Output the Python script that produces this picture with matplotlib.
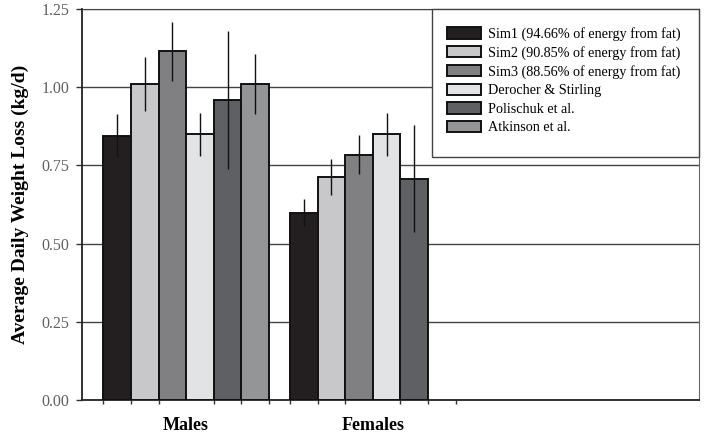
import numpy as np
import matplotlib.pyplot as plt
from matplotlib.patches import Rectangle

# Data
groups = ["Males", "Females"]
series = ["Sim1 (94.66% of energy from fat)",
          "Sim2 (90.85% of energy from fat)",
          "Sim3 (88.56% of energy from fat)",
          "Derocher & Stirling",
          "Polischuk et al.",
          "Atkinson et al."]
males = [0.845, 1.010, 1.115, 0.849, 0.960, 1.010]
males_err = [0.068, 0.087, 0.095, 0.070, 0.220, 0.097]
females = [0.598, 0.712, 0.784, 0.849, 0.708, np.nan]
females_err = [0.043, 0.058, 0.063, 0.070, 0.170, np.nan]

colors = ["#231f20", "#c8c8ca", "#808083", "#e2e3e5", "#5f6063", "#949597"]

plt.rcParams['font.family'] = ['Liberation Serif', 'DejaVu Serif']

fig = plt.figure(figsize=(7.05, 4.37), dpi=100)
ax = fig.add_axes([82 / 705, 37 / 437, 617 / 705, 391 / 437])

group_offset = [0.0, 6.76]
vals = [males, females]
errs = [males_err, females_err]

handles = []
for i in range(len(series)):
    xs, ys, es = [], [], []
    for g in range(len(groups)):
        if not np.isnan(vals[g][i]):
            xs.append(group_offset[g] + i)
            ys.append(vals[g][i])
            es.append(errs[g][i])
    b = ax.bar(xs, ys, width=1.0, color=colors[i], edgecolor="#111111",
               linewidth=1.4, zorder=3, label=series[i])
    ax.errorbar(xs, ys, yerr=es, fmt="none", ecolor="#111111",
                elinewidth=1.0, capsize=0, zorder=4)
    handles.append(b)

ax.set_xlim(-1.272, 21.08)
ax.set_ylim(0, 1.25)
ax.set_yticks([0, 0.25, 0.5, 0.75, 1.0, 1.25])
ax.set_yticklabels(["0.00", "0.25", "0.50", "0.75", "1.00", "1.25"])
ax.yaxis.grid(True, color="#444444", linewidth=1.0, zorder=0)
ax.set_axisbelow(True)
ax.tick_params(axis="y", direction="out", length=4, width=1, color="#333333",
               labelsize=11.5, labelcolor="#606060", pad=5)

# group labels
ax.set_xticks([o + 2.5 for o in group_offset])
ax.set_xticklabels(groups, fontsize=13, fontweight="bold")
ax.tick_params(axis="x", which="major", length=0, pad=12)
edges = []
for o in group_offset:
    edges += [o - 0.5 + k for k in range(7)]
ax.set_xticks(edges, minor=True)
ax.tick_params(axis="x", which="minor", direction="out", length=3, width=1,
               color="#333333")

for side in ["left", "bottom"]:
    ax.spines[side].set_color("#222222")
    ax.spines[side].set_linewidth(1.3)
ax.spines["right"].set_color("#666666")
ax.spines["top"].set_color("#444444")

ax.set_ylabel("Average Daily Weight Loss (kg/d)", fontsize=14,
              fontweight="bold", labelpad=9)

# legend box
x0 = (432 - 82) / 617
y0 = (400 - 157) / 391
ax.add_patch(Rectangle((x0, y0), 1 - x0, 1 - y0, transform=ax.transAxes,
                       facecolor="white", edgecolor="#444444", linewidth=1.0,
                       zorder=5, clip_on=False))
leg = ax.legend(handles=handles, loc="upper left",
                bbox_to_anchor=((447 - 82) / 617, (400 - 27) / 391),
                frameon=False, fontsize=10.2, handlelength=2.4,
                handleheight=0.85, handletextpad=0.5, labelspacing=0.35,
                borderpad=0, borderaxespad=0)
leg.set_zorder(6)

fig.savefig("out.png", dpi=100)
